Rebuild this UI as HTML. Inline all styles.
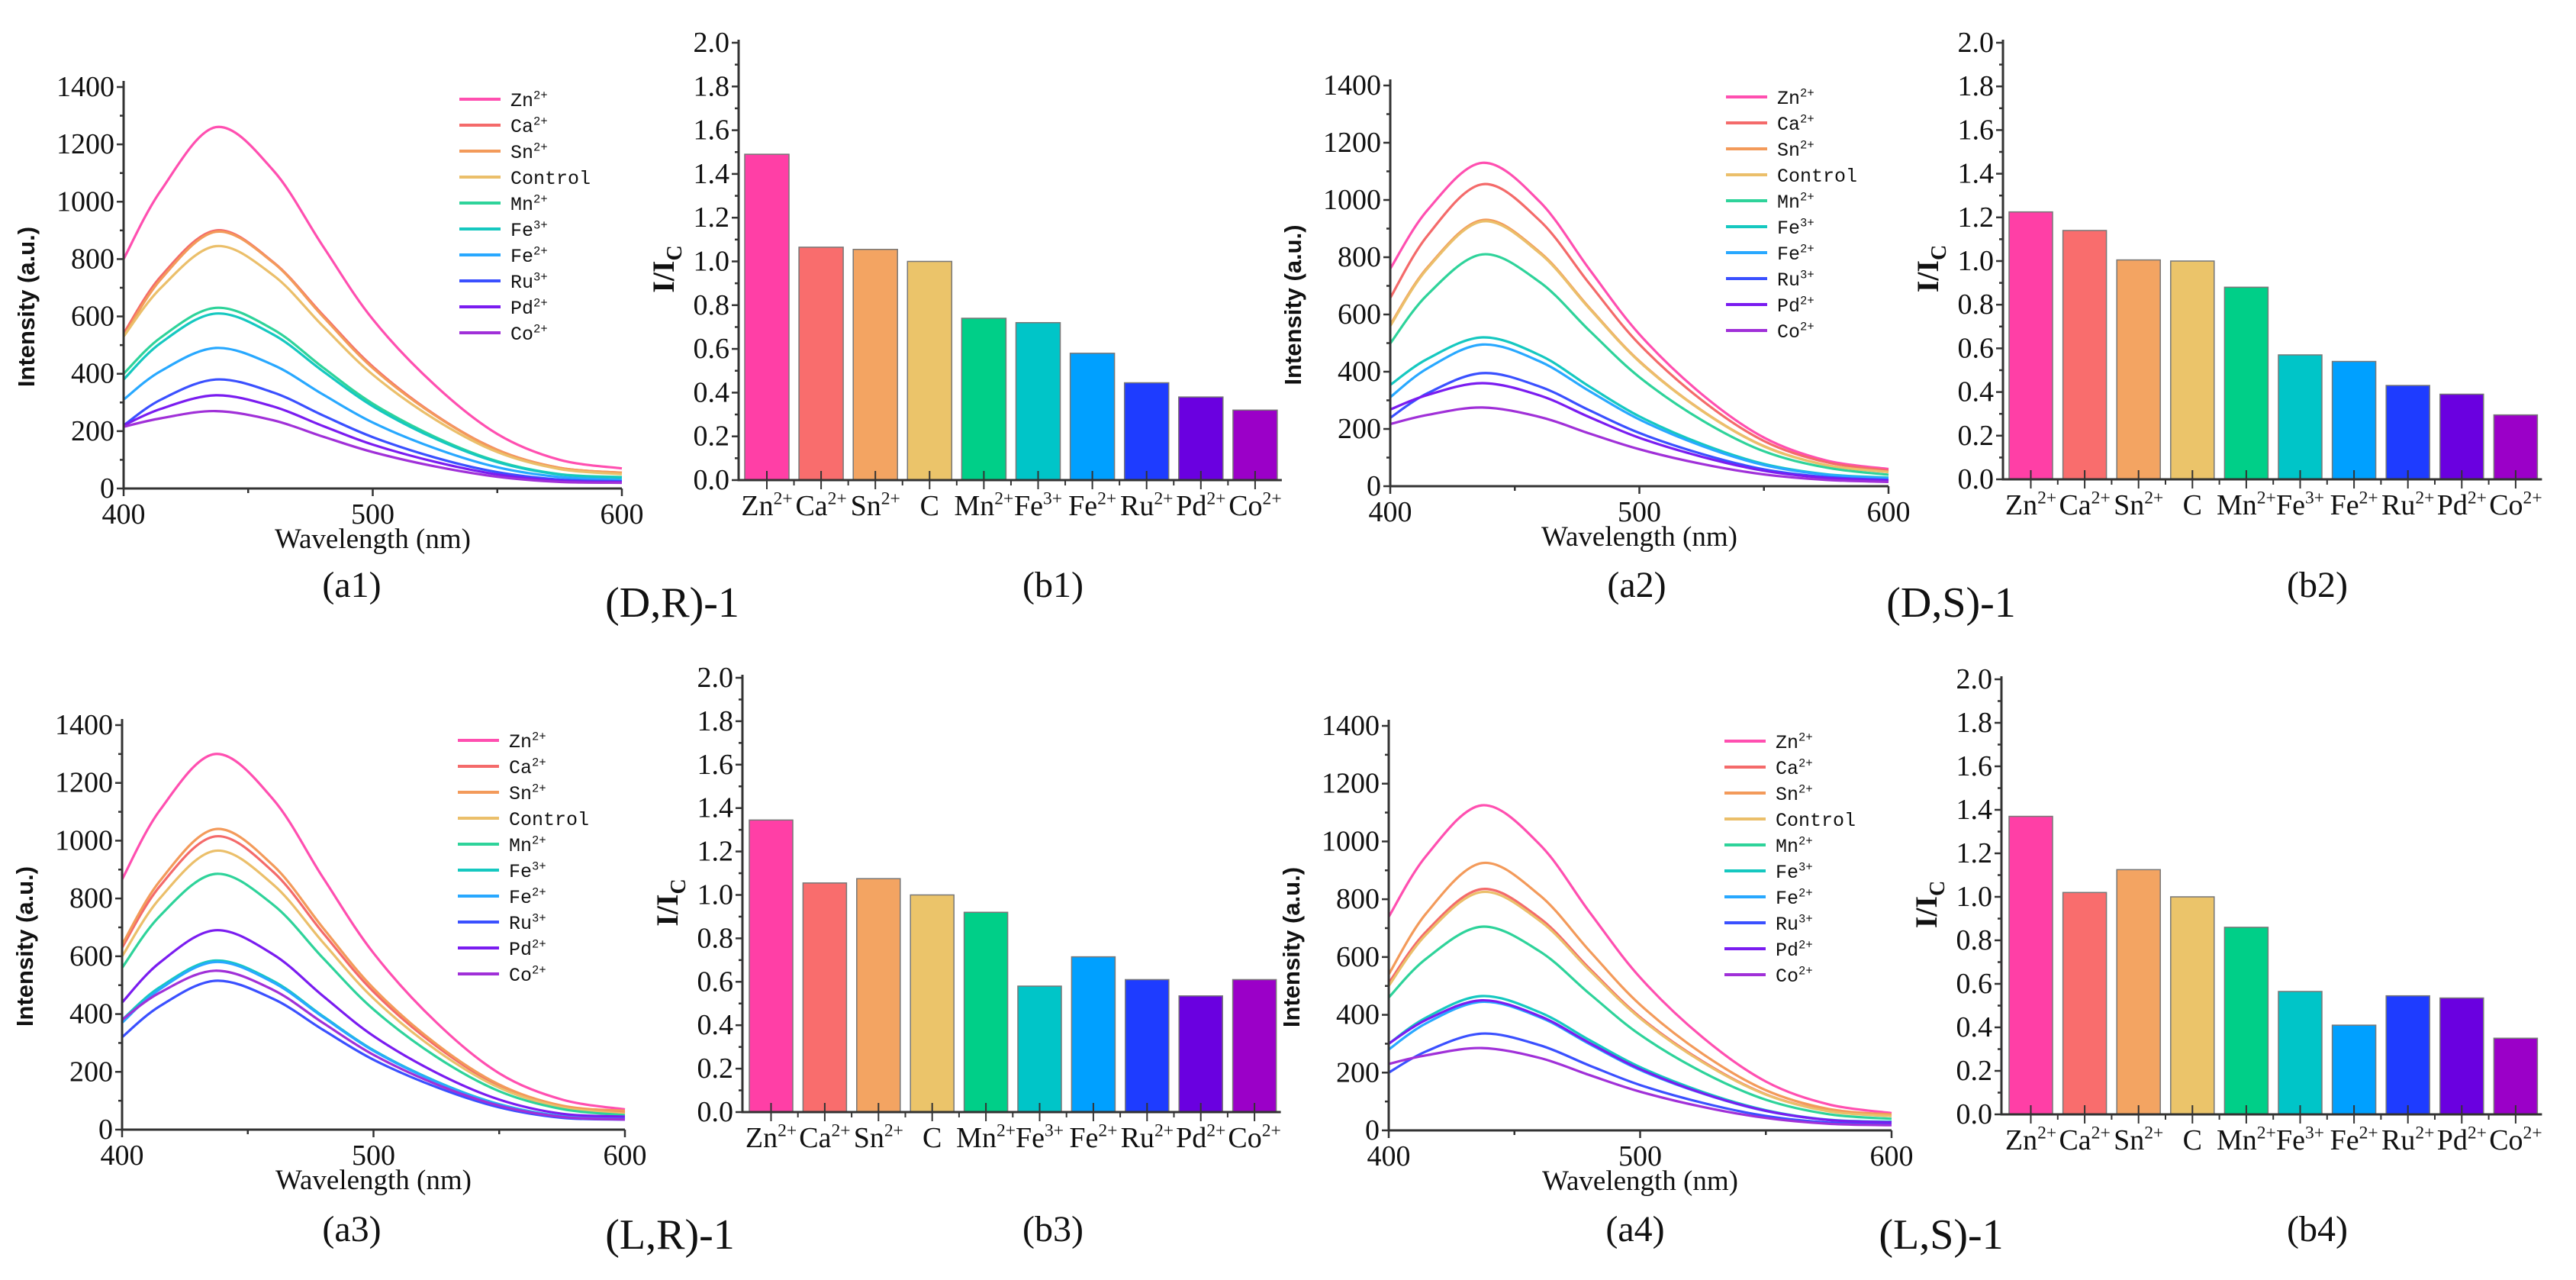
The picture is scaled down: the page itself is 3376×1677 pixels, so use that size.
<!DOCTYPE html>
<html><head><meta charset="utf-8"><style>
html,body{margin:0;padding:0;background:#fff;}
svg{display:block;}
</style></head><body>
<svg id="fig" width="3376" height="1677" viewBox="0 0 3376 1677" xmlns="http://www.w3.org/2000/svg"></svg>
<script>
const wavelengths = [400,415,437,460,480,500,525,550,575,600];
const seriesNames = ['Zn','Ca','Sn','Control','Mn','Fe3','Fe2','Ru','Pd','Co'];
const legendLabels = [['Zn','2+'],['Ca','2+'],['Sn','2+'],['Control',''],['Mn','2+'],['Fe','3+'],['Fe','2+'],['Ru','3+'],['Pd','2+'],['Co','2+']];
const lineColors = ['#ff4fb0','#f46a6a','#f39a5a','#ebbf6a','#2ed39a','#15c8c0','#28a8ff','#3a50ff','#7a1cf0','#a030d8'];
const barColors = ['#ff3fa6','#f96d6d','#f3a462','#ebc46a','#00cf88','#00c5c8','#00a0ff','#1e3cff','#6a00e0','#9b00c8'];
const categories = [['Zn','2+'],['Ca','2+'],['Sn','2+'],['C',''],['Mn','2+'],['Fe','3+'],['Fe','2+'],['Ru','2+'],['Pd','2+'],['Co','2+']];
const xTicks = [400,500,600];
const yTicksA = [0,200,400,600,800,1000,1200,1400];
const yTicksB = [0,0.2,0.4,0.6,0.8,1.0,1.2,1.4,1.6,1.8,2.0];

const spectraA1 = [
 [800,1040,1260,1110,845,590,360,190,100,70],
 [540,740,900,790,605,425,257,135,72,55],
 [530,730,895,788,600,420,255,134,72,55],
 [530,700,845,744,566,397,241,127,68,50],
 [400,527,630,555,422,296,180,95,50,40],
 [380,508,610,537,409,287,174,92,49,38],
 [310,410,490,431,328,230,140,74,40,30],
 [220,310,380,335,255,179,108,57,31,25],
 [220,278,325,286,218,153,93,49,27,22],
 [215,245,270,238,181,127,77,41,23,20]];
const spectraA2 = [
 [760,965,1130,994,757,531,322,170,90,60],
 [658,876,1055,928,707,496,301,158,84,55],
 [564,765,930,818,623,437,265,140,74,50],
 [560,761,925,814,620,435,264,139,74,50],
 [499,670,810,713,543,381,231,122,65,40],
 [354,445,520,458,348,244,148,78,42,30],
 [311,412,495,436,332,233,141,74,40,28],
 [239,325,395,348,265,186,113,59,32,22],
 [268,319,360,317,241,169,103,54,29,20],
 [217,249,275,242,184,129,78,41,22,15]];
const spectraA3 = [
 [866,1105,1300,1144,871,611,371,195,104,70],
 [630,842,1015,893,680,477,289,152,81,60],
 [640,860,1040,915,697,489,296,156,83,65],
 [600,800,965,849,647,454,275,145,77,55],
 [560,739,885,779,593,416,252,133,71,50],
 [380,493,585,515,392,275,167,88,47,40],
 [370,486,580,510,389,273,165,87,46,38],
 [320,427,515,453,345,242,147,77,41,35],
 [440,578,690,607,462,324,197,104,55,45],
 [380,474,550,484,369,259,157,83,44,35]];
const spectraA4 = [
 [739,951,1125,990,754,529,321,169,90,60],
 [510,689,835,735,559,392,238,125,67,50],
 [540,752,925,814,620,435,264,139,74,55],
 [500,679,825,726,553,388,235,124,66,50],
 [460,595,705,620,472,331,201,106,56,40],
 [300,391,465,409,312,219,133,70,37,30],
 [280,371,445,392,298,209,127,67,36,28],
 [200,274,335,295,224,157,95,50,27,22],
 [300,383,450,396,302,212,128,68,36,28],
 [230,260,285,251,191,134,81,43,23,18]];
const ratiosB1 = [1.49,1.065,1.055,1.0,0.74,0.72,0.58,0.445,0.38,0.32];
const ratiosB2 = [1.225,1.14,1.005,1.0,0.88,0.57,0.54,0.43,0.39,0.295];
const ratiosB3 = [1.345,1.055,1.075,1.0,0.92,0.58,0.715,0.61,0.535,0.61];
const ratiosB4 = [1.37,1.02,1.125,1.0,0.86,0.565,0.41,0.545,0.535,0.35];

const NS='http://www.w3.org/2000/svg';
const svg=document.getElementById('fig');
function mk(tag,attrs,parent){const e=document.createElementNS(NS,tag);for(const k in attrs)e.setAttribute(k,attrs[k]);(parent||svg).appendChild(e);return e;}
const SERIF='"Liberation Serif", "Times New Roman", serif';

function smoothPath(pts){
  let d='M'+pts[0][0].toFixed(1)+','+pts[0][1].toFixed(1);
  for(let i=0;i<pts.length-1;i++){
    const p0=pts[Math.max(0,i-1)],p1=pts[i],p2=pts[i+1],p3=pts[Math.min(pts.length-1,i+2)];
    const c1=[p1[0]+(p2[0]-p0[0])/6,p1[1]+(p2[1]-p0[1])/6];
    const c2=[p2[0]-(p3[0]-p1[0])/6,p2[1]-(p3[1]-p1[1])/6];
    d+=' C'+c1[0].toFixed(1)+','+c1[1].toFixed(1)+' '+c2[0].toFixed(1)+','+c2[1].toFixed(1)+' '+p2[0].toFixed(1)+','+p2[1].toFixed(1);
  }
  return d;
}

function supText(parent,x,y,base,sup,size,anchor,family){
  const t=mk('text',{x:x,y:y,'font-family':family||SERIF,'font-size':size,'text-anchor':anchor||'middle',fill:'#111'},parent);
  t.appendChild(document.createTextNode(base));
  if(sup){const s=mk('tspan',{dy:-size*0.38,'font-size':size*0.62},t);s.textContent=sup;}
  return t;
}

function drawSpectrum(cfg,data,tag){
  const g=mk('g',{});
  
  
  const sx=w=>cfg.x0+(w-400)/200*(cfg.x1-cfg.x0);
  const sy=v=>cfg.y0-v/1400*(cfg.y0-cfg.yt);
  // curves
  data.forEach((row,i)=>{
    const pts=row.map((v,j)=>[sx(wavelengths[j]),sy(v)]);
    const p=mk('path',{d:smoothPath(pts),fill:'none',stroke:lineColors[i],'stroke-width':3.2},g);
    
    
  });
  // axes
  const ax=mk('path',{d:`M${cfg.x0},${cfg.yt-8} V${cfg.y0} H${cfg.x1}`,fill:'none',stroke:'#333','stroke-width':3},g);
  
  
  for(let v=0;v<=1400;v+=100){
    const y=sy(v);const len=v%200===0?9:5;
    mk('line',{x1:cfg.x0-len,x2:cfg.x0,y1:y,y2:y,stroke:'#333','stroke-width':2.5},g);
  }
  yTicksA.forEach(v=>{
    const t=mk('text',{x:cfg.x0-12,y:sy(v)+12,'font-family':SERIF,'font-size':38,'text-anchor':'end',fill:'#111'},g);
    t.textContent=v;
    
    
  });
  for(let w=400;w<=600;w+=50){
    const x=sx(w);const len=w%100===0?10:6;
    mk('line',{x1:x,x2:x,y1:cfg.y0,y2:cfg.y0+len,stroke:'#333','stroke-width':2.5},g);
  }
  xTicks.forEach(w=>{
    const t=mk('text',{x:sx(w),y:cfg.y0+46,'font-family':SERIF,'font-size':38,'text-anchor':'middle',fill:'#111'},g);
    t.textContent=w;
    
    
  });
  const xt=mk('text',{x:(cfg.x0+cfg.x1)/2,y:cfg.y0+78,'font-family':SERIF,'font-size':37,'text-anchor':'middle',fill:'#111'},g);
  xt.textContent='Wavelength (nm)';
  
  
  const yc=(cfg.y0+cfg.yt)/2+25;
  const yt=mk('text',{x:cfg.x0-117,y:yc,'font-family':'"Liberation Sans", Arial, sans-serif','font-size':31,'font-weight':'bold','text-anchor':'middle',fill:'#111',transform:`rotate(-90 ${cfg.x0-117} ${yc})`},g);
  yt.textContent='Intensity (a.u.)';
  
  
  // legend
  legendLabels.forEach((lab,i)=>{
    const y=cfg.y0-510+i*34;
    const lg=mk('g',{},g);
    
    
    mk('line',{x1:cfg.x0+440,x2:cfg.x0+494,y1:y,y2:y,stroke:lineColors[i],'stroke-width':4},lg);
    supText(lg,cfg.x0+507,y+9,lab[0],lab[1],25,'start','"Liberation Mono", "DejaVu Sans Mono", monospace');
  });
}

function drawBars(cfg,vals,tag){
  const g=mk('g',{});
  
  
  const sy=v=>cfg.y0-v/2*(cfg.y0-cfg.yt);
  vals.forEach((v,i)=>{
    const x=cfg.first+i*cfg.pitch;
    const r=mk('rect',{x:x,y:sy(v),width:cfg.bw,height:cfg.y0-sy(v),fill:barColors[i],stroke:'#777','stroke-width':1.5},g);
    
    
  });
  const end=cfg.first+9*cfg.pitch+cfg.bw+6;
  const ax=mk('path',{d:`M${cfg.ax},${cfg.yt-4} V${cfg.y0} H${end}`,fill:'none',stroke:'#333','stroke-width':3},g);
  
  
  for(let k=0;k<=20;k++){
    const y=sy(k/10);const len=k%2===0?9:5;
    mk('line',{x1:cfg.ax-len,x2:cfg.ax,y1:y,y2:y,stroke:'#333','stroke-width':2.5},g);
  }
  yTicksB.forEach(v=>{
    const t=mk('text',{x:cfg.ax-12,y:sy(v)+12,'font-family':SERIF,'font-size':38,'text-anchor':'end',fill:'#111'},g);
    t.textContent=v.toFixed(1);
    
    
  });
  categories.forEach((c,i)=>{
    const cx=cfg.first+i*cfg.pitch+cfg.bw/2;
    mk('line',{x1:cx,x2:cx,y1:cfg.y0-12,y2:cfg.y0+12,stroke:'#333','stroke-width':2},g);
    if(i<9){const bx=cfg.first+i*cfg.pitch+cfg.bw+(cfg.pitch-cfg.bw)/2;mk('line',{x1:bx,x2:bx,y1:cfg.y0,y2:cfg.y0+7,stroke:'#333','stroke-width':2},g);}
    const t=supText(g,cx,cfg.y0+46,c[0],c[1],38,'middle');
    
    
  });
  const yc=(cfg.y0+cfg.yt)/2+10;
  const yt=mk('text',{x:cfg.ax-85,y:yc,'font-family':SERIF,'font-size':40,'font-weight':'bold','text-anchor':'middle',fill:'#111',transform:`rotate(-90 ${cfg.ax-85} ${yc})`},g);
  yt.appendChild(document.createTextNode('I/I'));
  const sub=mk('tspan',{dy:10,'font-size':28},yt);sub.textContent='C';
  
  
}

function caption(x,y,txt,size,name){
  const t=mk('text',{x:x,y:y,'font-family':SERIF,'font-size':size,'text-anchor':'middle',fill:'#111'});
  t.textContent=txt;
  
  
}

drawSpectrum({x0:162,x1:815,y0:640,yt:114},spectraA1,'a1');
drawSpectrum({x0:1822,x1:2475,y0:637,yt:112},spectraA2,'a2');
drawSpectrum({x0:160,x1:819,y0:1480,yt:950},spectraA3,'a3');
drawSpectrum({x0:1820,x1:2479,y0:1481,yt:951},spectraA4,'a4');
drawBars({ax:968,y0:629,yt:56,first:976,pitch:71.1,bw:58},ratiosB1,'b1');
drawBars({ax:2625,y0:628,yt:56,first:2633,pitch:70.6,bw:57},ratiosB2,'b2');
drawBars({ax:973,y0:1457,yt:888,first:982,pitch:70.4,bw:57},ratiosB3,'b3');
drawBars({ax:2623,y0:1460,yt:890,first:2633,pitch:70.6,bw:57},ratiosB4,'b4');

caption(461,782,'(a1)',48,'caption-a1');
caption(881,808,'(D,R)-1',56,'caption-dr1');
caption(1380,782,'(b1)',48,'caption-b1');
caption(2145,782,'(a2)',48,'caption-a2');
caption(2557,808,'(D,S)-1',56,'caption-ds1');
caption(3037,782,'(b2)',48,'caption-b2');
caption(461,1626,'(a3)',48,'caption-a3');
caption(878,1636,'(L,R)-1',56,'caption-lr1');
caption(1380,1626,'(b3)',48,'caption-b3');
caption(2143,1626,'(a4)',48,'caption-a4');
caption(2544,1636,'(L,S)-1',56,'caption-ls1');
caption(3037,1626,'(b4)',48,'caption-b4');
</script>
</body></html>
